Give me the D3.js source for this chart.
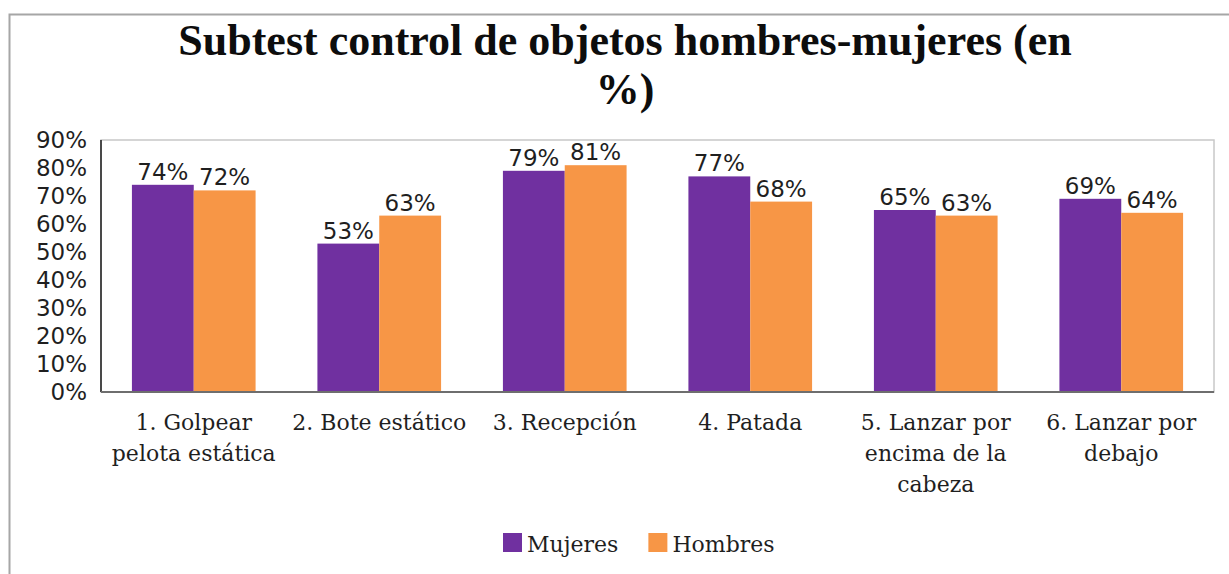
<!DOCTYPE html>
<html>
<head>
<meta charset="utf-8">
<script src="https://cdn.jsdelivr.net/npm/d3@7"></script>
<style>
  body { margin: 0; background: #fff; }
</style>
</head>
<body>
<svg id="chart" width="1229" height="574"></svg>
<script>
// data
var categories = ["1. Golpear\npelota estática", "2. Bote estático", "3. Recepción", "4. Patada", "5. Lanzar por\nencima de la\ncabeza", "6. Lanzar por\ndebajo"];
var seriesNames = ["Mujeres", "Hombres"];
var mujeres = [0.74, 0.53, 0.79, 0.77, 0.65, 0.69];
var hombres = [0.72, 0.63, 0.81, 0.68, 0.63, 0.64];
var yTicks = [0, 0.1, 0.2, 0.3, 0.4, 0.5, 0.6, 0.7, 0.8, 0.9];
var titleLines = ["Subtest control de objetos hombres-mujeres (en", "%)"];

var colors = { "Mujeres": "#7030A0", "Hombres": "#F79646" };

var svg = d3.select("#chart");
var W = 1229, H = 574;
var plot = { left: 101, right: 1214, top: 140, bottom: 392 };

var sansFont = "'DejaVu Sans', Verdana, sans-serif";
var serifFont = "'DejaVu Serif', serif";

// outer chart frame
svg.append("path")
    .attr("d", "M9.5," + H + " L9.5,14.5 L" + W + ",14.5")
    .attr("fill", "none")
    .attr("stroke", "#a6a6a6")
    .attr("stroke-width", 2);

// title
svg.append("text")
    .attr("x", 625)
    .attr("text-anchor", "middle")
    .style("font-family", "'Liberation Serif', serif")
    .style("font-weight", "bold")
    .style("font-size", "44px")
    .attr("fill", "#0d0d0d")
    .selectAll("tspan")
    .data(titleLines)
    .enter().append("tspan")
    .attr("x", 625)
    .attr("y", function(d, i) { return 55 + i * 49; })
    .text(function(d) { return d; });

// scales
var x0 = d3.scaleBand()
    .domain(categories)
    .range([plot.left, plot.right])
    .paddingInner(1 / 3)
    .paddingOuter(1 / 6);

var x1 = d3.scaleBand()
    .domain(seriesNames)
    .range([0, x0.bandwidth()])
    .padding(0);

var y = d3.scaleLinear()
    .domain([0, 0.9])
    .range([plot.bottom, plot.top]);

var fmt = d3.format(".0%");

// plot area border
svg.append("rect")
    .attr("x", plot.left)
    .attr("y", plot.top)
    .attr("width", plot.right - plot.left)
    .attr("height", plot.bottom - plot.top)
    .attr("fill", "none")
    .attr("stroke", "#c8c8c8")
    .attr("stroke-width", 1.5);

// y axis labels
var yAxis = svg.append("g")
    .attr("transform", "translate(" + plot.left + ",0)")
    .call(d3.axisLeft(y).tickValues(yTicks).tickFormat(fmt).tickSize(0).tickPadding(14));
yAxis.select(".domain").remove();
yAxis.selectAll("text")
    .style("font-family", sansFont)
    .style("font-size", "23px")
    .attr("fill", "#1f1f1f");

svg.append("line")
    .attr("x1", plot.left).attr("x2", plot.left)
    .attr("y1", plot.top).attr("y2", plot.bottom)
    .attr("stroke", "#1a1a1a")
    .attr("stroke-width", 1.5);

// bars
var rows = categories.map(function(c, i) {
    return { cat: c, values: [
        { name: "Mujeres", value: mujeres[i] },
        { name: "Hombres", value: hombres[i] }
    ] };
});

var groups = svg.selectAll(".group")
    .data(rows)
    .enter().append("g")
    .attr("class", "group")
    .attr("transform", function(d) { return "translate(" + x0(d.cat) + ",0)"; });

groups.selectAll("rect")
    .data(function(d) { return d.values; })
    .enter().append("rect")
    .attr("x", function(d) { return x1(d.name); })
    .attr("y", function(d) { return y(d.value); })
    .attr("width", x1.bandwidth())
    .attr("height", function(d) { return y(0) - y(d.value); })
    .attr("fill", function(d) { return colors[d.name]; });

groups.selectAll("text.val")
    .data(function(d) { return d.values; })
    .enter().append("text")
    .attr("class", "val")
    .attr("x", function(d) { return x1(d.name) + x1.bandwidth() / 2; })
    .attr("y", function(d) { return y(d.value) - 5; })
    .attr("text-anchor", "middle")
    .style("font-family", sansFont)
    .style("font-size", "23px")
    .attr("fill", "#1f1f1f")
    .text(function(d) { return fmt(d.value); });

// x axis line
svg.append("line")
    .attr("x1", plot.left).attr("x2", plot.right)
    .attr("y1", plot.bottom).attr("y2", plot.bottom)
    .attr("stroke", "#6e6e6e")
    .attr("stroke-width", 2);

// category labels
var catLabels = svg.selectAll(".cat")
    .data(categories)
    .enter().append("text")
    .attr("class", "cat")
    .attr("text-anchor", "middle")
    .style("font-family", serifFont)
    .style("font-size", "22px")
    .attr("fill", "#1f1f1f");

catLabels.each(function(d) {
    var cx = x0(d) + x0.bandwidth() / 2;
    d3.select(this).selectAll("tspan")
        .data(d.split("\n"))
        .enter().append("tspan")
        .attr("x", cx)
        .attr("y", function(t, i) { return 430 + i * 31; })
        .text(function(t) { return t; });
});

// legend
var legend = svg.append("g");
var lx = 503;
seriesNames.forEach(function(name) {
    legend.append("rect")
        .attr("x", lx).attr("y", 533)
        .attr("width", 19).attr("height", 19)
        .attr("fill", colors[name]);
    var t = legend.append("text")
        .attr("x", lx + 24).attr("y", 552)
        .style("font-family", serifFont)
        .style("font-size", "22px")
        .attr("fill", "#1f1f1f")
        .text(name);
    lx += 24 + t.node().getComputedTextLength() + 30;
});
</script>
</body>
</html>
